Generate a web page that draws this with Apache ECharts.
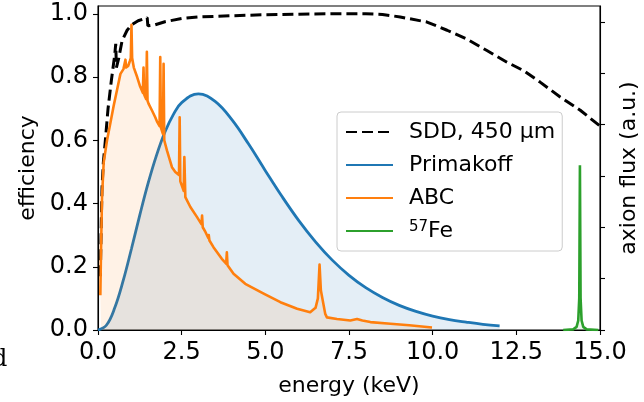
<!DOCTYPE html>
<html>
<head>
<meta charset="utf-8">
<script src="https://cdn.jsdelivr.net/npm/echarts@6/dist/echarts.min.js"></script>
<style>
html,body{margin:0;padding:0;background:#fff;}
#chart{width:644px;height:402px;}
</style>
</head>
<body>
<div id="chart"></div>
<script>
// ---- data ----
const xTicks = [0, 2.5, 5, 7.5, 10, 12.5, 15];
const yTicks = [0, 0.2, 0.4, 0.6, 0.8, 1.0];
const fluxTicks = [0, 1, 2, 3, 4, 5, 6];

// SDD 450 um efficiency [energy keV, efficiency]
const sddData = [
  [0.07,0.17],[0.1,0.35],[0.12,0.45],[0.16,0.53],[0.22,0.6],[0.3,0.7],[0.4,0.79],
  [0.5,0.87],[0.53,0.905],[0.55,0.83],[0.62,0.86],[0.72,0.915],[0.87,0.948],
  [1.0,0.965],[1.2,0.978],[1.47,0.988],[1.49,0.962],[1.7,0.965],[2.0,0.975],
  [2.5,0.985],[3.0,0.99],[4.0,0.994],[5.0,0.997],[6.0,0.999],[7.0,1.0],[8.0,1.0],
  [8.5,0.998],[9.03,0.99],[9.83,0.974],[10.43,0.948],[11.02,0.92],[11.62,0.884],
  [12.22,0.847],[12.72,0.82],[13.21,0.784],[13.81,0.737],[14.41,0.695],[15.0,0.645]
];

// Primakoff flux (scaled to efficiency axis)
const primakoffEnergy = [0,0.25,0.5,0.75,1,1.25,1.5,1.75,2,2.25,2.5,3,3.5,4,4.5,5,5.5,6,6.5,7,7.5,8,8.5,9,9.5,10,10.5,11,11.5,12];
const primakoffFlux   = [0,0.015,0.07,0.155,0.257,0.364,0.465,0.553,0.626,0.681,0.719,0.747,0.723,0.665,0.588,0.504,0.422,0.346,0.279,0.221,0.173,0.134,0.103,0.078,0.059,0.044,0.033,0.025,0.018,0.013];

// ABC flux [energy keV, flux]
const abcData = [
  [0.07,0.11],[0.09,0.25],[0.12,0.42],[0.17,0.53],[0.27,0.6],[0.37,0.655],[0.47,0.71],
  [0.57,0.76],[0.67,0.81],[0.76,0.825],[0.8,0.83],[0.82,0.855],[0.84,0.83],[0.9,0.835],
  [0.95,0.85],[0.98,0.86],[1.0,0.965],[1.02,0.86],[1.07,0.83],[1.17,0.80],[1.26,0.77],
  [1.34,0.75],[1.36,0.83],[1.38,0.745],[1.41,0.737],[1.44,0.73],[1.46,0.88],[1.48,0.725],
  [1.51,0.716],[1.61,0.695],[1.71,0.673],[1.76,0.66],[1.84,0.645],[1.86,0.863],[1.88,0.64],
  [1.94,0.62],[1.96,0.842],[1.98,0.6],[2.06,0.568],[2.21,0.515],[2.31,0.50],[2.42,0.49],
  [2.44,0.673],[2.46,0.47],[2.56,0.44],[2.58,0.547],[2.61,0.42],[2.76,0.389],[2.96,0.357],
  [3.09,0.335],[3.11,0.362],[3.13,0.325],[3.21,0.31],[3.3,0.29],[3.31,0.30],[3.33,0.283],
  [3.45,0.262],[3.7,0.225],[3.83,0.21],[3.85,0.246],[3.87,0.205],[4.05,0.178],[4.4,0.146],
  [4.95,0.115],[5.45,0.088],[5.95,0.067],[6.34,0.056],[6.5,0.07],[6.57,0.1],[6.62,0.207],
  [6.66,0.125],[6.69,0.12],[6.79,0.051],[6.84,0.04],[7.14,0.035],[7.54,0.03],[7.74,0.035],
  [7.9,0.03],[8.14,0.025],[8.74,0.02],[9.3,0.015],[9.98,0.008]
];

// 57Fe line [energy keV, flux]
const fe57Data = [
  [13.9,0],[14.2,0.002],[14.3,0.01],[14.35,0.03],[14.38,0.1],[14.4,0.521],
  [14.42,0.1],[14.45,0.03],[14.5,0.01],[14.6,0.002],[14.95,0]
];

const seriesNames = ['SDD, 450 µm', 'Primakoff', 'ABC', '57Fe'];

const FONT = 'DejaVu Sans';
const chart = echarts.init(document.getElementById('chart'), null, {renderer:'canvas'});

const option = {
  animation: false,
  backgroundColor: '#ffffff',
  grid: {
    left: 98, right: 44, top: 6, bottom: 72,
    containLabel: false, outerBoundsMode: 'none',
    show: true, borderColor: '#000', borderWidth: 1.1, backgroundColor: 'transparent'
  },
  xAxis: {
    type: 'value', min: 0, max: 15, interval: 2.5,
    name: 'energy (keV)', nameLocation: 'middle', nameGap: 45,
    nameTextStyle: {fontFamily: FONT, fontSize: 22, color: '#000'},
    axisLine: {show: true, lineStyle: {color: '#000', width: 1.1}},
    axisTick: {show: true, inside: false, length: 5, lineStyle: {color: '#000', width: 1.1}, customValues: xTicks},
    axisLabel: {fontFamily: FONT, fontSize: 24, color: '#000', margin: 11, customValues: xTicks,
      formatter: v => v.toFixed(1)},
    splitLine: {show: false}
  },
  yAxis: [
    {
      type: 'value', min: 0, max: 1.0247,
      name: 'efficiency', nameLocation: 'middle', nameGap: 58,
      nameTextStyle: {fontFamily: FONT, fontSize: 22, color: '#000'},
      axisLine: {show: true, lineStyle: {color: '#000', width: 1.1}},
      axisTick: {show: true, length: 5, lineStyle: {color: '#000', width: 1.1}, customValues: yTicks},
      axisLabel: {fontFamily: FONT, fontSize: 24, color: '#000', margin: 10, customValues: yTicks,
        formatter: v => v.toFixed(1)},
      splitLine: {show: false}
    },
    {
      type: 'value', min: 0, max: 6.312, position: 'right',
      name: 'axion flux (a.u.)', nameLocation: 'middle', nameGap: 18,
      nameTextStyle: {fontFamily: FONT, fontSize: 22, color: '#000'},
      axisLine: {show: true, lineStyle: {color: '#000', width: 1.1}},
      axisTick: {show: true, length: 5, lineStyle: {color: '#000', width: 1.1}, customValues: fluxTicks},
      axisLabel: {show: false},
      splitLine: {show: false}
    }
  ],
  legend: {
    data: seriesNames,
    orient: 'vertical',
    left: 337, top: 112,
    padding: [9, 7, 9, 8],
    itemWidth: 47, itemHeight: 14, itemGap: 11,
    itemStyle: {opacity: 0},
    backgroundColor: 'rgba(255,255,255,0.8)',
    borderColor: '#cccccc', borderWidth: 1, borderRadius: 4,
    formatter: name => name === '57Fe' ? '{sup|57}{n|Fe}' : name,
    textStyle: {
      fontFamily: FONT, fontSize: 22, color: '#000', padding: [0, 0, 0, 11],
      rich: {
        sup: {fontFamily: FONT, fontSize: 15, color: '#000', verticalAlign: 'top', lineHeight: 22},
        n: {fontFamily: FONT, fontSize: 22, color: '#000', lineHeight: 22}
      }
    }
  },
  graphic: [
    {type: 'text', left: -8, top: 348, silent: true,
     style: {text: 'd', font: '24px "DejaVu Serif"', fill: '#000'}}
  ],
  series: [
    {
      name: seriesNames[0], type: 'line', data: sddData, symbol: 'none', z: 2,
      lineStyle: {color: '#000', width: 3, type: [11, 5], cap: 'butt'},
      itemStyle: {color: '#000'}
    },
    {
      name: seriesNames[1], type: 'line', smooth: 0.4, symbol: 'none', z: 3,
      data: primakoffEnergy.map((e, i) => [e, primakoffFlux[i]]),
      lineStyle: {color: '#1f77b4', width: 2.8},
      itemStyle: {color: '#1f77b4'},
      areaStyle: {color: '#1f77b4', opacity: 0.12}
    },
    {
      name: seriesNames[2], type: 'line', data: abcData, symbol: 'none', z: 4,
      lineStyle: {color: '#ff7f0e', width: 2.6, join: 'round'},
      itemStyle: {color: '#ff7f0e'},
      areaStyle: {color: '#ff7f0e', opacity: 0.1}
    },
    {
      name: seriesNames[3], type: 'line', data: fe57Data, symbol: 'none', z: 5,
      lineStyle: {color: '#2ca02c', width: 2.6},
      itemStyle: {color: '#2ca02c'},
      areaStyle: {color: '#2ca02c', opacity: 0.1}
    }
  ]
};
chart.setOption(option);
</script>
</body>
</html>
